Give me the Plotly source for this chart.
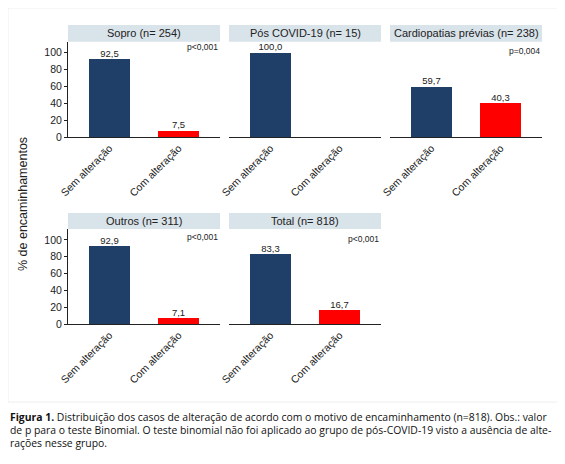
import plotly.graph_objects as go

# data
panels = ["Sopro (n= 254)", "Pós COVID-19 (n= 15)", "Cardiopatias prévias (n= 238)",
          "Outros (n= 311)", "Total (n= 818)"]
categories = ["Sem alteração", "Com alteração"]
sem_alteracao = [92.5, 100.0, 59.7, 92.9, 83.3]
com_alteracao = [7.5, 0.0, 40.3, 7.1, 16.7]
p_values = ["p<0,001", "", "p=0,004", "p<0,001", "p<0,001"]
y_ticks = [0, 20, 40, 60, 80, 100]

NAVY = "#1f3f68"
RED = "#ff0000"
STRIP = "#d9e3ea"
FONT = "Liberation Sans, Arial, sans-serif"

# the page puts the figure 8px in from the window corner
OFF = 8
W, H = 565 - OFF, 464 - OFF
col_x = [(68, 220), (229, 381), (390, 542)]
row_y = [(25, 41.7, 137), (213, 229, 324)]   # strip top, plot top, plot bottom (window px)
p_y = [107, None, 102, 104, 101]


def px_x(v):
    return max(v - OFF, 0) / W


def px_y(v):
    return 1 - max(v - OFF, 0) / H


def fmt(v):
    return "" if v == 0 else f"{v:.1f}".replace(".", ",")


fig = go.Figure()
shapes = []
annotations = []

for i, name in enumerate(panels):
    r, c = divmod(i, 3)
    n = i + 1
    xa = "xaxis" if n == 1 else f"xaxis{n}"
    ya = "yaxis" if n == 1 else f"yaxis{n}"
    xr = "x" if n == 1 else f"x{n}"
    yr = "y" if n == 1 else f"y{n}"
    x0, x1 = col_x[c]
    s0, p0, p1 = row_y[r]
    vals = [sem_alteracao[i], com_alteracao[i]]

    fig.add_trace(go.Bar(
        x=categories, y=vals, xaxis=xr, yaxis=yr,
        marker=dict(color=[NAVY, RED], line=dict(width=0)),
        width=0.6, showlegend=False, hoverinfo="x+y",
    ))
    # value labels sitting on top of the bars
    fig.add_trace(go.Scatter(
        x=categories, y=vals, xaxis=xr, yaxis=yr, mode="text",
        text=[fmt(v) for v in vals], textposition="top center",
        textfont=dict(family=FONT, size=9.5, color="#222222"),
        cliponaxis=False, showlegend=False, hoverinfo="skip",
    ))

    first_col = c == 0
    fig.update_layout({
        xa: dict(domain=[px_x(x0), px_x(x1)], anchor=yr, range=[-0.6, 1.6],
                 tickangle=-45, showline=True, linecolor="#222222", linewidth=1,
                 ticks="", showgrid=False, zeroline=False, automargin=False,
                 tickfont=dict(family=FONT, size=10.5, color="#222222")),
        ya: dict(domain=[px_y(p1), px_y(p0)], anchor=xr, range=[0, 113],
                 tickvals=y_ticks, showticklabels=first_col,
                 showline=first_col, linecolor="#222222", linewidth=1,
                 ticks="outside" if first_col else "", ticklen=3,
                 tickcolor="#222222", showgrid=False, zeroline=False,
                 automargin=False,
                 tickfont=dict(family=FONT, size=10.5, color="#222222")),
    })

    shapes.append(dict(type="rect", xref="paper", yref="paper",
                       x0=px_x(x0), x1=px_x(x1), y0=px_y(p0), y1=px_y(s0),
                       fillcolor=STRIP, line=dict(width=0), layer="below"))
    annotations.append(dict(text=name, xref="paper", yref="paper",
                            x=px_x((x0 + x1) / 2), y=px_y((s0 + p0) / 2),
                            showarrow=False, xanchor="center", yanchor="middle",
                            font=dict(family=FONT, size=11, color="#222222")))
    if p_values[i]:
        annotations.append(dict(text=p_values[i], xref=f"{xr} domain", yref=yr,
                                x=1.0, y=p_y[i], showarrow=False,
                                xanchor="right", yanchor="middle",
                                font=dict(family=FONT, size=8.5, color="#222222")))

# y axis title
annotations.append(dict(text="% de encaminhamentos", xref="paper", yref="paper",
                        x=px_x(23), y=px_y(204), textangle=-90, showarrow=False,
                        xanchor="center", yanchor="middle",
                        font=dict(family=FONT, size=12.5, color="#222222")))

# caption
caption = [
    "<b>Figura 1.</b> Distribuição dos casos de alteração de acordo com o motivo de encaminhamento (n=818). Obs.: valor",
    "de p para o teste Binomial. O teste binomial não foi aplicado ao grupo de pós-COVID-19 visto a ausência de alte-",
    "rações nesse grupo.",
]
for k, line in enumerate(caption):
    annotations.append(dict(text=line, xref="paper", yref="paper",
                            x=0, y=px_y(417 + 13 * k), showarrow=False,
                            xanchor="left", yanchor="middle",
                            font=dict(family="Open Sans, sans-serif", size=10.4, color="#111111")))

# faint frame around the chart area
shapes.append(dict(type="rect", xref="paper", yref="paper",
                   x0=0, x1=px_x(559), y0=px_y(402), y1=px_y(8),
                   line=dict(color="#eeeeee", width=1), layer="below"))

fig.update_layout(width=W, height=H, margin=dict(l=0, r=0, t=0, b=0, autoexpand=False),
                  paper_bgcolor="white", plot_bgcolor="white",
                  shapes=shapes, annotations=annotations, bargap=0)
fig.write_html("out.html")
